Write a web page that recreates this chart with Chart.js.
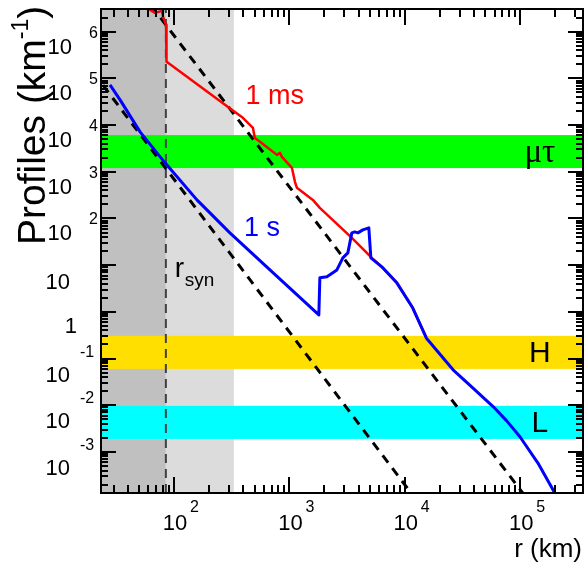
<!DOCTYPE html>
<html>
<head>
<meta charset="utf-8">
<script src="https://cdn.jsdelivr.net/npm/chart.js@4"></script>
<style>
body{margin:0;background:#fff;overflow:hidden;}
#box{position:relative;width:584px;height:566px;}
canvas{display:block;position:absolute;left:0;top:0;}
</style>
</head>
<body>
<div id="box"><canvas id="profiles_chart" width="584" height="566"></canvas></div>
<script>
// axis ranges (km, km^-1)
const x_min = 23.3, x_max = 3.5e5;
const y_min = 1.32e-4, y_max = 3.06e6;

// 1 ms profile (red)
const ms_r = [57, 62, 68.4, 78.7, 80.3, 85.3, 86.1, 88.7, 294, 395, 483, 502, 556, 780, 828, 861, 1052, 1117, 1162, 1596, 1835, 3475, 5176, 6320, 8530, 11700, 15400];
const ms_v = [3.56e6, 2.93e6, 2.53e6, 2.79e6, 2.07e6, 1.40e6, 2.26e5, 2.15e5, 2.45e4, 1.43e4, 8.7e3, 5.3e3, 4.37e3, 2.30e3, 2.54e3, 2.08e3, 1.21e3, 608, 452, 250, 169, 38.4, 14.3, 9.2, 4.18, 1.22, 0.273];

// 1 s profile (blue)
const s_r = [27.9, 34.1, 50.8, 83.6, 158, 305, 678, 1799, 1836, 2113, 2578, 2904, 3209, 3475, 3688, 3917, 4327, 4876, 5080, 6320, 8530, 11700, 15400, 26200, 38800, 58200, 76400, 99100, 142000, 199000, 220000];
const s_v = [7.26e4, 3.47e4, 7150, 1552, 250, 49.2, 7.9, 0.86, 5.35, 5.62, 7.9, 14.3, 18.3, 49.2, 51.6, 49.2, 57, 63, 14.3, 9.2, 4.18, 1.22, 0.273, 0.0573, 0.0236, 0.00938, 0.00463, 0.00214, 5.84e-4, 1.33e-4, 8.6e-5];

// dashed reference power laws
const line1_r = [63, 120000];
const line1_v = [3.7e6, 8.6e-5];
const line2_r = [20, 12600];
const line2_v = [1.34e5, 9.3e-5];

// shaded radii and horizontal bands
const r_syn = 85;
const shade_end = 330;
const band_names = ["\u03bc\u03c4", "H", "L"];
const band_lo = [1.2e3, 0.06, 0.0019];
const band_hi = [6.1e3, 0.306, 0.0097];
const band_colors = ["#00ff00", "#ffdf00", "#00ffff"];

// axis decades that get labels
const x_decades = [2, 3, 4, 5];
const y_decades = [-3, -2, -1, 0, 1, 2, 3, 4, 5, 6];

const FONT = "'Liberation Sans', Arial, sans-serif";
const box = document.getElementById("box");

function points(rs, vs){
    return rs.map((r, i) => ({x: r, y: vs[i]}));
}

function logTicks(min, max){
    let out = [];
    for(let e = Math.floor(Math.log10(min)); e <= Math.ceil(Math.log10(max)); e++){
        for(let m = 1; m < 10; m++){
            let v = m * Math.pow(10, e);
            if(v >= min && v <= max) out.push({v: v, major: m == 1});
        }
    }
    return out;
}

// text goes in as html spans, y is the visual centre of the line
function label(text, x, y, size, align, color, family){
    let s = document.createElement("span");
    s.innerHTML = text;
    let tx = align == "right" ? "-100%" : (align == "center" ? "-50%" : "0");
    s.style.cssText = "position:absolute;white-space:nowrap;line-height:1;left:" + x + "px;top:" + y + "px;font-size:" + size + "px;color:" + (color || "#000") + ";font-family:" + (family || FONT) + ";transform:translate(" + tx + ",-50%);";
    box.appendChild(s);
    return s;
}

const backdrop = {
    id: "backdrop",
    beforeDatasetsDraw(chart){
        const c = chart.ctx, a = chart.chartArea;
        const sx = chart.scales.x, sy = chart.scales.y;
        let xs = sx.getPixelForValue(r_syn), xl = sx.getPixelForValue(shade_end);
        c.save();
        c.fillStyle = "#c0c0c0";
        c.fillRect(a.left, a.top, xs - a.left, a.bottom - a.top);
        c.fillStyle = "#dcdcdc";
        c.fillRect(xs, a.top, xl - xs, a.bottom - a.top);
        band_lo.forEach((lo, i) => {
            let y1 = sy.getPixelForValue(band_hi[i]), y2 = sy.getPixelForValue(lo);
            c.fillStyle = band_colors[i];
            c.fillRect(a.left, y1, a.right - a.left, y2 - y1);
        });
        c.restore();
    }
};

const axisTicks = {
    id: "axisTicks",
    afterDraw(chart){
        const c = chart.ctx, a = chart.chartArea;
        const sx = chart.scales.x, sy = chart.scales.y;
        c.save();
        c.fillStyle = "#000";
        logTicks(x_min, x_max).forEach(t => {
            let x = Math.round(sx.getPixelForValue(t.v)), len = t.major ? 16 : 8;
            c.fillRect(x - 1, a.bottom - len, 2, len);
            c.fillRect(x - 1, a.top, 2, len);
        });
        logTicks(y_min, y_max).forEach(t => {
            let y = Math.round(sy.getPixelForValue(t.v)), len = t.major ? 15 : 7;
            c.fillRect(a.left, y - 1, len, 2);
            c.fillRect(a.right - len, y - 1, len, 2);
        });
        c.restore();
        c.strokeStyle = "#000";
        c.lineWidth = 2;
        c.strokeRect(a.left, a.top, a.right - a.left, a.bottom - a.top);
    }
};

const chart = new Chart(document.getElementById("profiles_chart").getContext("2d"), {
    type: "scatter",
    data: {
        datasets: [
            {label: "1 s", data: points(s_r, s_v), showLine: true, borderColor: "#0000ff", borderWidth: 3, pointRadius: 0, borderJoinStyle: "round", order: 1},
            {label: "1 ms", data: points(ms_r, ms_v), showLine: true, borderColor: "#ff0000", borderWidth: 2.5, pointRadius: 0, borderJoinStyle: "round", order: 2},
            {label: "power law a", data: points(line1_r, line1_v), showLine: true, borderColor: "#000", borderWidth: 3, borderDash: [9, 7], pointRadius: 0, order: 3},
            {label: "power law b", data: points(line2_r, line2_v), showLine: true, borderColor: "#000", borderWidth: 3, borderDash: [9, 7], pointRadius: 0, order: 4},
            {label: "r_syn", data: [{x: r_syn, y: y_min}, {x: r_syn, y: y_max}], showLine: true, borderColor: "#404040", borderWidth: 2, borderDash: [9, 6], pointRadius: 0, order: 5}
        ]
    },
    options: {
        responsive: false,
        animation: false,
        devicePixelRatio: 1,
        layout: {padding: {left: 101, right: 1, top: 9, bottom: 73}},
        plugins: {legend: {display: false}, tooltip: {enabled: false}},
        scales: {
            x: {type: "logarithmic", min: x_min, max: x_max, display: false},
            y: {type: "logarithmic", min: y_min, max: y_max, display: false}
        }
    },
    plugins: [backdrop, axisTicks]
});

// labels placed from the chart's own scales
const sx = chart.scales.x, sy = chart.scales.y;

label("1 ms", sx.getPixelForValue(748), sy.getPixelForValue(4.4e4), 27, "center", "#ff0000");
label("1 s", sx.getPixelForValue(578), sy.getPixelForValue(66), 27, "center", "#0000ff");
band_names.forEach((name, i) => {
    let yc = (sy.getPixelForValue(band_lo[i]) + sy.getPixelForValue(band_hi[i])) / 2;
    if(i == 0) label(name, sx.getPixelForValue(1.48e5), yc - 1, 33, "center", "#000", "'Liberation Serif', serif");
    else label(name, sx.getPixelForValue(1.48e5), yc, 30, "center");
});
let xr = sx.getPixelForValue(r_syn) + 9;
label("r", xr, 268, 28, "left");
label("syn", xr + 10, 279, 19, "left");

y_decades.forEach(e => {
    let y = sy.getPixelForValue(Math.pow(10, e));
    if(e == 0){ label("1", 77, y + 14, 22, "right"); return; }
    if(e == 1){ label("10", 70, y + 17, 22, "right"); return; }
    label("10", e > 0 ? 72 : 70, y + (e > 0 ? 15 : 16), 22, "right");
    label(String(e), e > 0 ? 89 : 80, y + (e > 0 ? 1 : -7), 16, "left");
});
x_decades.forEach(e => {
    let x = sx.getPixelForValue(Math.pow(10, e));
    label("10", x + 1, 523, 22, "center");
    label(String(e), x + 16, 507, 16, "left");
});

label("r (km)", 582, 548, 26, "right");

// y title, rotated so its baseline sits at x = 45 and it ends at y = 6
let title = label("Profiles (km<span style=\"font-size:23px;position:relative;top:-17px;\">-1</span>)", 0, 0, 39, "left");
title.style.transform = "none";
let tw = title.offsetWidth;
title.style.transformOrigin = "0 0";
title.style.left = "12px";
title.style.top = (6 + tw) + "px";
title.style.transform = "rotate(-90deg)";
</script>
</body>
</html>
